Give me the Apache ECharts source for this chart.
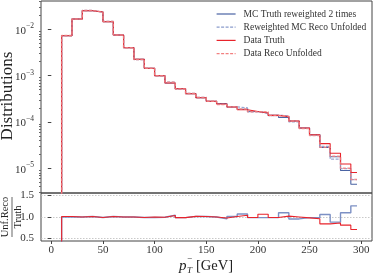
<!DOCTYPE html>
<html><head><meta charset="utf-8">
<script src="https://cdn.jsdelivr.net/npm/echarts@6/dist/echarts.min.js"></script>
<style>html,body{margin:0;padding:0;background:#fff}#c{width:374px;height:275px}</style>
</head><body><div id="c"></div>
<script>
// bin edges (GeV)
var binEdges = [10,20,30,40,50,60,70,80,90,100,110,120,130,140,150,160,170,180,190,200,210,220,230,240,250,260,270,280,290,296];
// top panel distributions
var mcTruth = [7.27e-3,1.67e-2,2.52e-2,2.36e-2,1.46e-2,7.53e-3,4.01e-3,2.25e-3,1.44e-3,9.96e-4,6.93e-4,5.22e-4,4.07e-4,3.34e-4,2.79e-4,2.50e-4,2.10e-4,1.88e-4,1.68e-4,1.56e-4,1.39e-4,1.25e-4,1.05e-4,7.41e-5,5.31e-5,2.81e-5,1.78e-5,8.95e-6,4.54e-6];
var mcRecoUnfolded = [7.27e-3,1.67e-2,2.545e-2,2.336e-2,1.475e-2,7.53e-3,4.01e-3,2.23e-3,1.43e-3,9.91e-4,7.21e-4,5.14e-4,4.13e-4,3.37e-4,2.79e-4,2.39e-4,2.12e-4,2.01e-4,1.65e-4,1.54e-4,1.38e-4,1.375e-4,1.00e-4,7.30e-5,5.23e-5,2.98e-5,1.57e-5,9.85e-6,5.72e-6];
var dataTruth = [7.27e-3,1.67e-2,2.52e-2,2.36e-2,1.46e-2,7.53e-3,4.01e-3,2.25e-3,1.44e-3,9.96e-4,6.93e-4,5.22e-4,4.07e-4,3.34e-4,2.79e-4,2.44e-4,2.10e-4,1.84e-4,1.68e-4,1.56e-4,1.39e-4,1.30e-4,1.05e-4,7.41e-5,5.31e-5,3.40e-5,2.11e-5,1.24e-5,8.11e-6];
var dataRecoUnfolded = [7.34e-3,1.67e-2,2.545e-2,2.336e-2,1.475e-2,7.53e-3,4.01e-3,2.23e-3,1.44e-3,9.91e-4,7.17e-4,5.14e-4,4.13e-4,3.37e-4,2.79e-4,2.38e-4,2.12e-4,1.91e-4,1.66e-4,1.66e-4,1.38e-4,1.33e-4,1.05e-4,7.26e-5,5.10e-5,2.86e-5,1.81e-5,1.00e-5,5.76e-6];
// ratio panel
var mcRatio = [1.00,1.00,1.01,0.99,1.01,1.00,1.00,0.99,0.99,0.995,1.04,0.985,1.015,1.01,1.00,0.955,1.01,1.07,0.985,0.985,0.99,1.10,0.955,0.985,0.985,1.06,0.88,1.10,1.26];
var dataRatio = [1.01,1.00,1.01,0.99,1.01,1.00,1.00,0.99,1.00,0.995,1.035,0.985,1.015,1.01,1.00,0.975,1.01,1.04,0.99,1.065,0.99,1.02,1.00,0.98,0.96,0.84,0.86,0.81,0.71];
// ticks
var xTicks = [0,50,100,150,200,250,300];
var logTicks = [1e-5,1e-4,1e-3,1e-2];
var ratioTicks = [0.5,1.0,1.5];

function stepData(vals, floor){
  var d = [[binEdges[0], floor]];
  for (var i=0;i<vals.length;i++) d.push([binEdges[i], vals[i]]);
  d.push([binEdges[vals.length], vals[vals.length-1]]);
  return d;
}
var minorTicks = [];
for (var e=-6;e<=-2;e++) for (var m=2;m<=9;m++) minorTicks.push(m*Math.pow(10,e));

var SERIF = 'Liberation Serif';
var BLUE = '#4a63a3', BLUE_L = '#8a9ccc', RED = '#e8232b', RED_L = '#f28080';
var sup = {'-2':'−2','-3':'−3','-4':'−4','-5':'−5'};

var chart = echarts.init(document.getElementById('c'), null, {renderer:'canvas'});
var frame = {show:true, borderColor:'#444', borderWidth:1, backgroundColor:'transparent'};
chart.setOption({
  animation:false,
  textStyle:{fontFamily:SERIF},
  grid:[
    Object.assign({left:41, top:1, width:331, height:192}, frame),
    Object.assign({left:41, top:193, width:331, height:48}, frame)
  ],
  legend:{
    orient:'vertical', left:216, top:9, padding:0, itemWidth:19, itemHeight:8, itemGap:3.2,
    itemStyle:{opacity:0, color:'transparent', borderWidth:0},
    textStyle:{fontFamily:SERIF, fontSize:9.5, lineHeight:10, color:'#333', padding:[0,0,0,3]},
    data:[
      {name:'MC Truth reweighted 2 times', lineStyle:{color:BLUE, width:1.2, opacity:1}},
      {name:'Reweighted MC Reco Unfolded', lineStyle:{color:BLUE_L, width:1.2, opacity:1, type:[3,1.5]}},
      {name:'Data Truth', lineStyle:{color:RED, width:1.2, opacity:1}},
      {name:'Data Reco Unfolded', lineStyle:{color:RED_L, width:1.2, opacity:1, type:[3,1.5]}}
    ]
  },
  xAxis:[
    {type:'value', gridIndex:0, min:-10, max:310.5, axisLine:{show:false}, axisTick:{show:false}, axisLabel:{show:false}, splitLine:{show:false}},
    {type:'value', gridIndex:1, min:-10, max:310.5, axisLine:{show:false},
     axisTick:{show:true, length:3, lineStyle:{color:'#444'}, customValues:xTicks},
     axisLabel:{customValues:xTicks, fontFamily:SERIF, fontSize:11, color:'#333', margin:4},
     splitLine:{show:false}}
  ],
  yAxis:[
    {type:'log', gridIndex:0, min:2.93e-6, max:0.0408, axisLine:{show:false},
     axisTick:{show:true, length:3.5, lineStyle:{color:'#444'}, customValues:logTicks},
     axisLabel:{customValues:logTicks, margin:7, fontFamily:SERIF,
       formatter:function(v){var ex=Math.round(Math.log10(v)); return '{b|10}{s|'+sup[String(ex)]+'}';},
       rich:{b:{fontFamily:SERIF,fontSize:11,color:'#333',lineHeight:14,verticalAlign:'bottom'},
             s:{fontFamily:SERIF,fontSize:7.5,color:'#333',lineHeight:14,verticalAlign:'top'}}},
     splitLine:{show:false}},
    {type:'log', gridIndex:0, min:2.93e-6, max:0.0408, position:'left', axisLine:{show:false},
     axisTick:{show:true, length:2, lineStyle:{color:'#666'}, customValues:minorTicks},
     axisLabel:{show:false}, splitLine:{show:false}},
    {type:'value', gridIndex:1, min:0.44, max:1.56, axisLine:{show:false},
     axisTick:{show:true, length:3.5, lineStyle:{color:'#444'}, customValues:ratioTicks},
     axisLabel:{customValues:ratioTicks, margin:7, fontFamily:SERIF, fontSize:11, color:'#333',
       formatter:function(v){return v.toFixed(1);}},
     splitLine:{show:true, lineStyle:{color:'#bbb', type:[1.5,1.5], width:0.8}}}
  ],
  series:[
    {name:'MC Truth reweighted 2 times', type:'line', xAxisIndex:0, yAxisIndex:0, step:'end', symbol:'none',
     data:stepData(mcTruth,1e-8), lineStyle:{color:BLUE, width:1.1}, itemStyle:{color:BLUE}},
    {name:'Reweighted MC Reco Unfolded', type:'line', xAxisIndex:0, yAxisIndex:0, step:'end', symbol:'none',
     data:stepData(mcRecoUnfolded,1e-8), lineStyle:{color:BLUE_L, width:1.3, type:[3,1.5], opacity:0.9}, itemStyle:{color:BLUE_L}},
    {name:'Data Truth', type:'line', xAxisIndex:0, yAxisIndex:0, step:'end', symbol:'none',
     data:stepData(dataTruth,1e-8), lineStyle:{color:RED, width:1.1}, itemStyle:{color:RED}},
    {name:'Data Reco Unfolded', type:'line', xAxisIndex:0, yAxisIndex:0, step:'end', symbol:'none',
     data:stepData(dataRecoUnfolded,1e-8), lineStyle:{color:RED_L, width:1.5, type:[3,1.5], opacity:0.85}, itemStyle:{color:RED_L}},
    {name:'mc ratio', type:'line', xAxisIndex:1, yAxisIndex:2, step:'end', symbol:'none',
     data:stepData(mcRatio,0), lineStyle:{color:'#7c90c4', width:1.4}},
    {name:'data ratio', type:'line', xAxisIndex:1, yAxisIndex:2, step:'end', symbol:'none',
     data:stepData(dataRatio,0), lineStyle:{color:RED, width:1.1}}
  ],
  graphic:[
    {type:'text', x:8, y:96, rotation:Math.PI/2, style:{text:'Distributions', fontFamily:SERIF, fontSize:17, fill:'#222', align:'center', verticalAlign:'middle'}},
    {type:'group', x:12, y:217, rotation:Math.PI/2, children:[
      {type:'text', x:0, y:-1, style:{text:'Unf.Reco', fontFamily:SERIF, fontSize:10.5, fill:'#222', align:'center', verticalAlign:'bottom'}},
      {type:'line', shape:{x1:-20, y1:0, x2:20, y2:0}, style:{stroke:'#222', lineWidth:0.7}},
      {type:'text', x:0, y:1, style:{text:'Truth', fontFamily:SERIF, fontSize:10.5, fill:'#222', align:'center', verticalAlign:'top'}}
    ]},
    {type:'text', x:179, y:266, style:{text:'p', fontFamily:SERIF, fontStyle:'italic', fontSize:15, fill:'#222', verticalAlign:'middle'}},
    {type:'text', x:187, y:271, style:{text:'T', fontFamily:SERIF, fontStyle:'italic', fontSize:9, fill:'#222', verticalAlign:'middle'}},
    {type:'text', x:187, y:259, style:{text:'−', fontFamily:SERIF, fontSize:9, fill:'#222', verticalAlign:'middle'}},
    {type:'text', x:196, y:266, style:{text:'[GeV]', fontFamily:SERIF, fontSize:14.5, fill:'#222', verticalAlign:'middle'}}
  ]
});
</script></body></html>
